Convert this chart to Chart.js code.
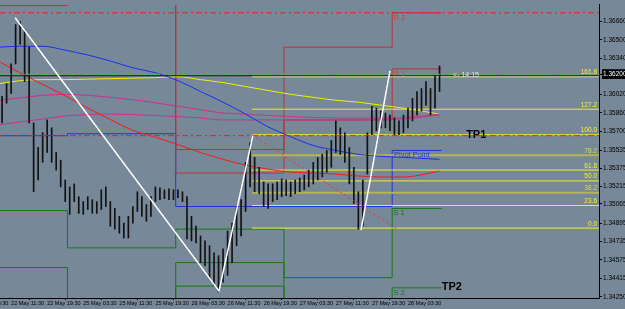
<!DOCTYPE html>
<html>
<head>
<meta charset="utf-8">
<script src="https://cdn.jsdelivr.net/npm/chart.js@4"></script>
<style>
    html, body { margin: 0; padding: 0; background: #778899; }
    canvas { display: block; }
</style>
</head>
<body>
<canvas id="fxChart" width="625" height="309"></canvas>
<script>
// x axis = trading hours counted from 22 May 03:30 (weekend skipped)
const xMin = 5.54;
const xMax = 138.36;
const yMin = 1.34240;
const yMax = 1.36806;

const timeTicks = [8, 16, 24, 32, 40, 48, 56, 64, 72, 80, 88, 96];
const timeLabels = ['22 May 11:30', '22 May 19:30', '25 May 03:30', '25 May 11:30', '25 May 19:30', '26 May 03:30',
    '26 May 11:30', '26 May 19:30', '27 May 03:30', '27 May 11:30', '27 May 19:30', '28 May 03:30'];
const firstTimeLabel = '22 May 03:30';

const priceTicks = [1.36660, 1.36500, 1.36340, 1.36200, 1.36020, 1.35860, 1.35700, 1.35535,
    1.35375, 1.35215, 1.35065, 1.34895, 1.34735, 1.34575, 1.34415, 1.34250];
const bidPrice = 1.36200;

// hourly bars, first one at hour 6
const firstBarHour = 6;
const candleHigh = [1.36005, 1.36117, 1.36289, 1.36634, 1.36660, 1.36591, 1.36436, 1.35773, 1.35558, 1.35687,
    1.35799, 1.35730, 1.35514, 1.35446, 1.35273, 1.35213, 1.35239, 1.35127, 1.35084, 1.35127,
    1.35101, 1.35084, 1.35187, 1.35213, 1.35084, 1.35024, 1.34955, 1.34895, 1.34955, 1.35041,
    1.35170, 1.35127, 1.35058, 1.35127, 1.35213, 1.35205, 1.35187, 1.35196, 1.35187, 1.35187,
    1.35170, 1.35127, 1.34955, 1.34869, 1.34783, 1.34740, 1.34697, 1.34636, 1.34610, 1.34671,
    1.34826, 1.34895, 1.35041, 1.35101, 1.35428, 1.35601, 1.35471, 1.35385, 1.35256, 1.35239,
    1.35239, 1.35256, 1.35282, 1.35273, 1.35256, 1.35273, 1.35291, 1.35316, 1.35360, 1.35428,
    1.35471, 1.35497, 1.35532, 1.35618, 1.35790, 1.35730, 1.35687, 1.35558, 1.35385, 1.35170,
    1.35273, 1.35687, 1.35919, 1.35902, 1.35876, 1.35859, 1.35842, 1.35816, 1.35790, 1.35842,
    1.35902, 1.35988, 1.36048, 1.36074, 1.36134, 1.36074, 1.36186, 1.36272];
const candleLow = [1.35773, 1.35945, 1.36031, 1.36289, 1.36462, 1.36134, 1.35773, 1.35170, 1.35273, 1.35428,
    1.35514, 1.35428, 1.35360, 1.35213, 1.35084, 1.34972, 1.35084, 1.34981, 1.34972, 1.35015,
    1.34981, 1.34981, 1.35015, 1.35041, 1.34869, 1.34843, 1.34808, 1.34765, 1.34765, 1.34895,
    1.34998, 1.34955, 1.34912, 1.34955, 1.35084, 1.35101, 1.35110, 1.35101, 1.35101, 1.35118,
    1.35084, 1.34757, 1.34740, 1.34722, 1.34550, 1.34524, 1.34412, 1.34352, 1.34292, 1.34378,
    1.34438, 1.34550, 1.34697, 1.34783, 1.34998, 1.35213, 1.35170, 1.35153, 1.35041, 1.35024,
    1.35084, 1.35101, 1.35127, 1.35136, 1.35127, 1.35153, 1.35170, 1.35187, 1.35213, 1.35239,
    1.35273, 1.35299, 1.35342, 1.35385, 1.35514, 1.35497, 1.35428, 1.35239, 1.35067, 1.34843,
    1.34869, 1.35325, 1.35669, 1.35704, 1.35730, 1.35730, 1.35704, 1.35669, 1.35669, 1.35687,
    1.35730, 1.35790, 1.35842, 1.35876, 1.35928, 1.35842, 1.35902, 1.36048];

// moving averages
const maHours = [5.5, 10, 15, 20, 25, 30, 35, 40, 45, 50, 55, 60, 65, 70, 75, 80, 85, 90, 95, 103];
const blueMA = [1.36436, 1.36444, 1.36444, 1.36410, 1.36367, 1.36315, 1.36255, 1.36212, 1.36143, 1.36048,
    1.35954, 1.35850, 1.35738, 1.35652, 1.35575, 1.35532, 1.35497, 1.35480, 1.35471, 1.35454];
const redMA = [1.36306, 1.36212, 1.36109, 1.36010, 1.35902, 1.35803, 1.35708, 1.35648, 1.35583, 1.35514,
    1.35454, 1.35403, 1.35368, 1.35342, 1.35334, 1.35325, 1.35308, 1.35299, 1.35299, 1.35351];
const magentaMA1 = [1.35971, 1.35992, 1.36014, 1.36023, 1.36014, 1.35997, 1.35975, 1.35949, 1.35919, 1.35889,
    1.35859, 1.35850, 1.35837, 1.35829, 1.35820, 1.35816, 1.35816, 1.35816, 1.35820, 1.35850];
const magentaMA2 = [1.35756, 1.35781, 1.35807, 1.35833, 1.35846, 1.35850, 1.35846, 1.35837, 1.35829, 1.35816,
    1.35799, 1.35799, 1.35799, 1.35799, 1.35799, 1.35799, 1.35799, 1.35803, 1.35807, 1.35842];
const yellowMA = [1.36117, 1.36143, 1.36152, 1.36152, 1.36156, 1.36160, 1.36165, 1.36169, 1.36177, 1.36152,
    1.36126, 1.36091, 1.36057, 1.36023, 1.35997, 1.35971, 1.35954, 1.35928, 1.35902, 1.35850];

// daily pivots (22, 25, 26, 27, 28 May), values off screen where the level is not visible
const dayStarts = [5.5, 20.5, 44.5, 68.5, 92.5];
const pivotEnd = 103.5;
const pivotR2 = [1.37000, 1.37000, 1.35540, 1.36436, 1.36737];
const pivotR1 = [1.36800, 1.36950, 1.35334, 1.35799, 1.36246];
const pivotP = [1.35661, 1.35678, 1.35041, 1.35041, 1.35532];
const pivotS1 = [1.35006, 1.34679, 1.34843, 1.34418, 1.35024];
const pivotS2 = [1.34507, 1.34100, 1.34550, 1.34100, 1.34329];
const pivotS3 = [1.34100, 1.34100, 1.34344, 1.34100, 1.34100];

// fibonacci
const fibStart = 61.4;
const fibLevels = [1.36177, 1.35893, 1.35669, 1.35489, 1.35360, 1.35265, 1.35162, 1.35050, 1.34852];
const fibLabels = ['161.8', '127.2', '100.0', '78.2', '61.8', '50.0', '38.2', '23.6', '0.0'];
const fibDim = ['78.2', '38.2'];
const fibAnchorA = {x: 61.4, y: 1.35669};
const fibAnchorB = {x: 93.6, y: 1.34843};

// zigzag (white)
const zigzag1 = [{x: 8.9, y: 1.36694}, {x: 54.1, y: 1.34301}, {x: 61.6, y: 1.35661}];
const zigzag2 = [{x: 85.6, y: 1.34834}, {x: 92.0, y: 1.36229}];

// horizontal lines across the whole chart
const redLineHigh = 1.36737;
const redLineLow = 1.35661;
const greenLine = 1.36199;
const bidLine = 1.36186;

const chartTexts = [
    {text: 'R 2', h: 92.8, p: 1.36737, color: '#c84040', font: '7.5px "Liberation Sans"'},
    {text: 'R 1', h: 92.8, p: 1.36246, color: '#c84040', font: '7.5px "Liberation Sans"'},
    {text: 'Pivot Point', h: 92.9, p: 1.35532, color: '#2038e8', font: '7.5px "Liberation Sans"'},
    {text: 'S 1', h: 92.8, p: 1.35024, color: '#137a13', font: '7.5px "Liberation Sans"'},
    {text: 'S 2', h: 92.8, p: 1.34329, color: '#137a13', font: '7.5px "Liberation Sans"'},
    {text: 'TP1', h: 108.9, p: 1.35644, color: '#000', font: 'bold 11px "Liberation Sans"', base: 'alphabetic'},
    {text: 'TP2', h: 103.5, p: 1.34309, color: '#000', font: 'bold 11px "Liberation Sans"', base: 'alphabetic'},
    {text: '<- 14:15', h: 106.0, p: 1.36195, color: '#e6e6e6', font: '7px "Liberation Sans"', base: 'middle'}
];

function hline(y, color, dash, order) {
    return {data: [{x: xMin, y: y}, {x: xMax, y: y}], borderColor: color, borderWidth: 1, borderDash: dash, order: order};
}

function pivotLine(values, color) {
    const pts = dayStarts.map((h, i) => ({x: h, y: values[i]}));
    pts.push({x: pivotEnd, y: values[values.length - 1]});
    return {data: pts, borderColor: color, borderWidth: 1, stepped: true, order: 6};
}

function maLine(values, color) {
    return {data: maHours.map((h, i) => ({x: h, y: values[i]})), borderColor: color, borderWidth: 1, tension: 0.4, cubicInterpolationMode: 'monotone', order: 4};
}

const datasets = [
    pivotLine(pivotR2, '#b83434'),
    pivotLine(pivotR1, '#b83434'),
    pivotLine(pivotP, '#1c34d8'),
    pivotLine(pivotS1, '#137a13'),
    pivotLine(pivotS2, '#137a13'),
    pivotLine(pivotS3, '#137a13'),
    maLine(blueMA, '#1a30f0'),
    maLine(redMA, '#f01c1c'),
    maLine(magentaMA1, '#c8328c'),
    maLine(magentaMA2, '#c8328c'),
    maLine(yellowMA, '#f2f200'),
    {
        type: 'bar',
        data: candleHigh.map((hi, i) => ({x: firstBarHour + i, y: [candleLow[i], hi]})),
        backgroundColor: '#111111',
        barThickness: 1,
        order: 3
    },
    hline(redLineHigh, '#e82020', [6, 3, 2, 3], 2),
    hline(redLineLow, '#e82020', [6, 3, 2, 3], 2),
    hline(greenLine, '#30d030', [6, 3, 2, 3], 2),
    hline(bidLine, '#1a1a1a', [], 2),
    {data: [fibAnchorA, fibAnchorB], borderColor: '#f03030', borderWidth: 1, borderDash: [2, 3], order: 2},
    {data: zigzag1, borderColor: '#ffffff', borderWidth: 1.5, order: 1},
    {data: zigzag2, borderColor: '#ffffff', borderWidth: 1.5, order: 1}
];

fibLevels.forEach((lvl, i) => {
    const dim = fibDim.includes(fibLabels[i]);
    datasets.push({
        data: [{x: fibStart, y: lvl}, {x: xMax, y: lvl}],
        borderColor: i === 0 ? '#f4f4a8' : (dim ? '#b4b450' : '#f0f020'),
        borderWidth: dim ? 2 : 1,
        order: 5
    });
});

const textPlugin = {
    id: 'chartTexts',
    afterDatasetsDraw(chart) {
        const {ctx, scales: {x, y}} = chart;
        ctx.save();
        chartTexts.forEach(t => {
            ctx.font = t.font;
            ctx.fillStyle = t.color;
            ctx.textAlign = 'left';
            ctx.textBaseline = t.base || 'top';
            ctx.fillText(t.text, x.getPixelForValue(t.h), y.getPixelForValue(t.p) + (t.base ? 0 : 1));
        });
        // fibo level names at the right edge
        ctx.font = '6.5px "Liberation Sans"';
        ctx.textAlign = 'right';
        ctx.textBaseline = 'bottom';
        fibLevels.forEach((lvl, i) => {
            ctx.fillStyle = fibDim.includes(fibLabels[i]) ? '#d8d860' : '#f4f430';
            ctx.fillText(fibLabels[i], x.getPixelForValue(xMax) - 2, y.getPixelForValue(lvl) - 1);
        });
        ctx.restore();
    },
    afterDraw(chart) {
        // first time label is cut by the left edge
        const {ctx, scales: {x}} = chart;
        ctx.save();
        ctx.font = '5.5px "Liberation Sans"';
        ctx.fillStyle = '#000';
        ctx.textAlign = 'left';
        ctx.textBaseline = 'top';
        ctx.fillText(firstTimeLabel, x.getPixelForValue(0), x.top + 3);
        ctx.restore();
    }
};

const ctx = document.getElementById('fxChart').getContext('2d');
const fxChart = new Chart(ctx, {
    type: 'line',
    data: {datasets: datasets},
    options: {
        responsive: false,
        animation: false,
        devicePixelRatio: 1,
        layout: {padding: 0},
        plugins: {legend: {display: false}, tooltip: {enabled: false}},
        elements: {point: {radius: 0}},
        scales: {
            x: {
                type: 'linear',
                min: xMin,
                max: xMax,
                offset: false,
                grid: {drawOnChartArea: false, tickLength: 2, color: '#000'},
                border: {display: true, color: '#000'},
                afterBuildTicks: (s) => { s.ticks = timeTicks.map(v => ({value: v})); },
                afterFit: (s) => { s.height = 11; },
                ticks: {
                    autoSkip: false,
                    maxRotation: 0,
                    align: 'start',
                    padding: 0,
                    color: '#000',
                    font: {size: 5.5, family: 'Liberation Sans'},
                    callback: (v, i) => timeLabels[i]
                }
            },
            y: {
                type: 'linear',
                position: 'right',
                min: yMin,
                max: yMax,
                grid: {drawOnChartArea: false, tickLength: 3, color: '#000'},
                border: {display: true, color: '#000'},
                afterBuildTicks: (s) => { s.ticks = priceTicks.map(v => ({value: v})); },
                afterFit: (s) => { s.width = 26; },
                ticks: {
                    padding: 1,
                    font: {size: 6.5, family: 'Liberation Sans'},
                    color: (c) => c.tick && c.tick.value === bidPrice ? '#fff' : '#000',
                    showLabelBackdrop: true,
                    backdropColor: (c) => c.tick && c.tick.value === bidPrice ? '#000' : 'rgba(0,0,0,0)',
                    backdropPadding: 1,
                    callback: (v) => v.toFixed(5)
                }
            }
        }
    },
    plugins: [textPlugin]
});
</script>
</body>
</html>
